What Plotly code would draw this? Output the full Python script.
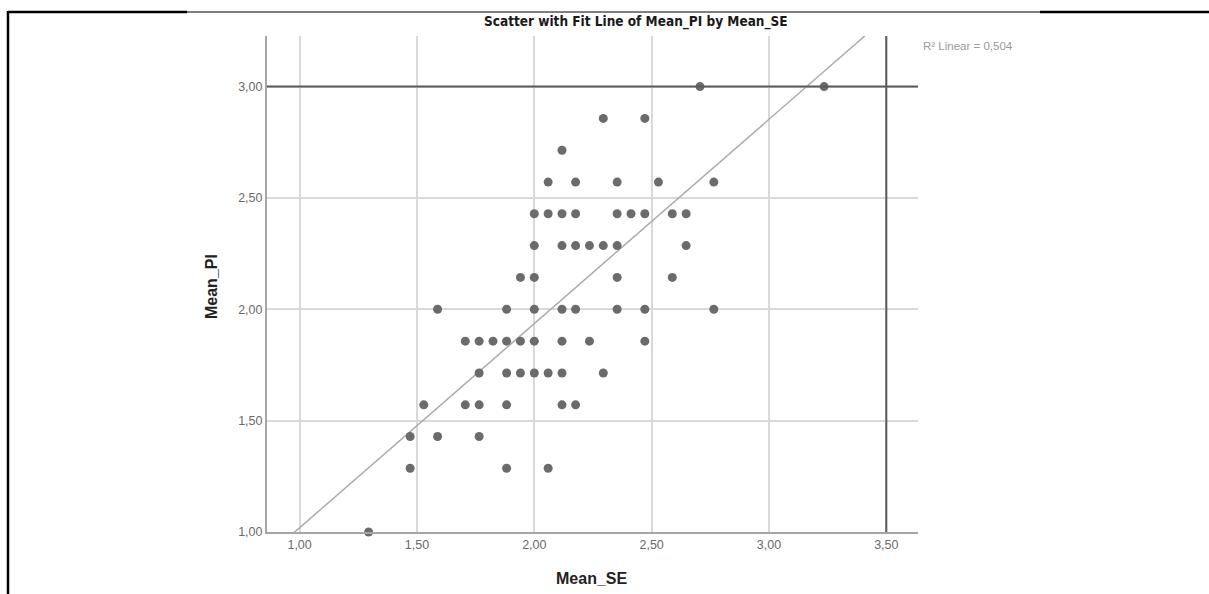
import plotly.graph_objects as go

# ---- data ----
mean_se = [
    1.294,
    1.471, 1.882, 2.059,
    1.471, 1.588, 1.765,
    1.529, 1.706, 1.765, 1.882, 2.118, 2.176,
    1.765, 1.882, 1.941, 2.000, 2.059, 2.118, 2.294,
    1.706, 1.765, 1.824, 1.882, 1.941, 2.000, 2.118, 2.235, 2.471,
    1.588, 1.882, 2.000, 2.118, 2.176, 2.353, 2.471, 2.765,
    1.941, 2.000, 2.353, 2.588,
    2.000, 2.118, 2.176, 2.235, 2.294, 2.353, 2.647,
    2.000, 2.059, 2.118, 2.176, 2.353, 2.412, 2.471, 2.588, 2.647,
    2.059, 2.176, 2.353, 2.529, 2.765,
    2.118,
    2.294, 2.471,
    2.706, 3.235,
]
mean_pi = (
    [1.000] * 1
    + [1.286] * 3
    + [1.429] * 3
    + [1.571] * 6
    + [1.714] * 7
    + [1.857] * 9
    + [2.000] * 8
    + [2.143] * 4
    + [2.286] * 7
    + [2.429] * 9
    + [2.571] * 5
    + [2.714] * 1
    + [2.857] * 2
    + [3.000] * 2
)
fit_intercept = 0.102
fit_slope = 0.917
r2_label = "R\u00b2 Linear = 0,504"
x_ticks = [1.0, 1.5, 2.0, 2.5, 3.0, 3.5]
y_ticks = [1.0, 1.5, 2.0, 2.5, 3.0]
ref_x = 3.5
ref_y = 3.0

# ---- layout geometry ----
W, H = 1209, 594
ML, MR, MT, MB = 267, 291, 36, 62
X_RANGE = [0.861, 3.635]
Y_RANGE = [1.0, 3.227]
PW = W - ML - MR
PH = H - MT - MB


def px_x(px):
    return (px - ML) / PW


def px_y(py):
    return (H - MB - py) / PH


fig = go.Figure()

# fit line
fx = [X_RANGE[0], X_RANGE[1]]
fy = [fit_intercept + fit_slope * v for v in fx]
fig.add_trace(go.Scatter(
    x=fx, y=fy, mode="lines",
    line=dict(color="#ababab", width=1.5),
    hoverinfo="skip", showlegend=False,
))

# points
fig.add_trace(go.Scatter(
    x=mean_se, y=mean_pi, mode="markers",
    marker=dict(color="#6b6b6b", size=9, line=dict(width=0)),
    showlegend=False, cliponaxis=False,
))

shapes = []
# reference lines
shapes.append(dict(type="line", xref="x", yref="paper", x0=ref_x, x1=ref_x, y0=0, y1=1,
                   line=dict(color="#5a5a5a", width=2), layer="above"))
shapes.append(dict(type="line", xref="paper", yref="y", x0=0, x1=1, y0=ref_y, y1=ref_y,
                   line=dict(color="#5a5a5a", width=2), layer="above"))

# frame lines around the figure (page layout)
frame_thick = dict(color="black", width=2.5)
frame_thin = dict(color="black", width=1)
shapes.append(dict(type="line", xref="paper", yref="paper",
                   x0=px_x(8), x1=px_x(187), y0=px_y(12), y1=px_y(12), line=frame_thick))
shapes.append(dict(type="line", xref="paper", yref="paper",
                   x0=px_x(187), x1=px_x(1040), y0=px_y(12), y1=px_y(12), line=frame_thin))
shapes.append(dict(type="line", xref="paper", yref="paper",
                   x0=px_x(1040), x1=px_x(1209), y0=px_y(12), y1=px_y(12), line=frame_thick))
shapes.append(dict(type="line", xref="paper", yref="paper",
                   x0=px_x(8), x1=px_x(8), y0=px_y(11), y1=px_y(594), line=frame_thick))

annotations = [
    dict(text="<b>Scatter with Fit Line of Mean_PI by Mean_SE</b>", xref="paper", yref="paper",
         x=px_x(636), y=px_y(22), showarrow=False, xanchor="center", yanchor="middle",
         font=dict(family="DejaVu Sans Condensed, Liberation Sans",
                   size=13.5, color="#1a1a1a")),
    dict(text="<b>Mean_SE</b>", xref="paper", yref="paper",
         x=px_x(591), y=px_y(578), showarrow=False, xanchor="center", yanchor="middle",
         font=dict(family="Liberation Sans, Arial", size=16, color="#222222")),
    dict(text="<b>Mean_PI</b>", xref="paper", yref="paper", textangle=-90,
         x=px_x(211), y=px_y(287), showarrow=False, xanchor="center", yanchor="middle",
         font=dict(family="Liberation Sans, Arial", size=16, color="#222222")),
    dict(text=r2_label, xref="paper", yref="paper",
         x=px_x(921), y=px_y(46), showarrow=False, xanchor="left", yanchor="middle",
         font=dict(family="Liberation Sans, Arial", size=11.5, color="#9a9a9a")),
]

axis_font = dict(family="Liberation Sans, Arial", size=12.5, color="#6a6a6a")

fig.update_layout(
    width=W, height=H, autosize=False,
    margin=dict(l=ML, r=MR, t=MT, b=MB, pad=0),
    paper_bgcolor="white", plot_bgcolor="white",
    separators=",.",
    shapes=shapes, annotations=annotations,
    xaxis=dict(range=X_RANGE, tickvals=x_ticks, tickformat=".2f",
               showgrid=True, gridcolor="#d9d9d9", gridwidth=1.5,
               showline=True, linecolor="#a6a6a6", linewidth=2,
               zeroline=False, ticks="", tickfont=axis_font, fixedrange=True),
    yaxis=dict(range=Y_RANGE, tickvals=y_ticks, tickformat=".2f",
               showgrid=True, gridcolor="#d9d9d9", gridwidth=1.5,
               showline=True, linecolor="#a6a6a6", linewidth=2,
               zeroline=False, ticks="", tickfont=axis_font, fixedrange=True),
    showlegend=False,
)

fig.write_html("out.html")
